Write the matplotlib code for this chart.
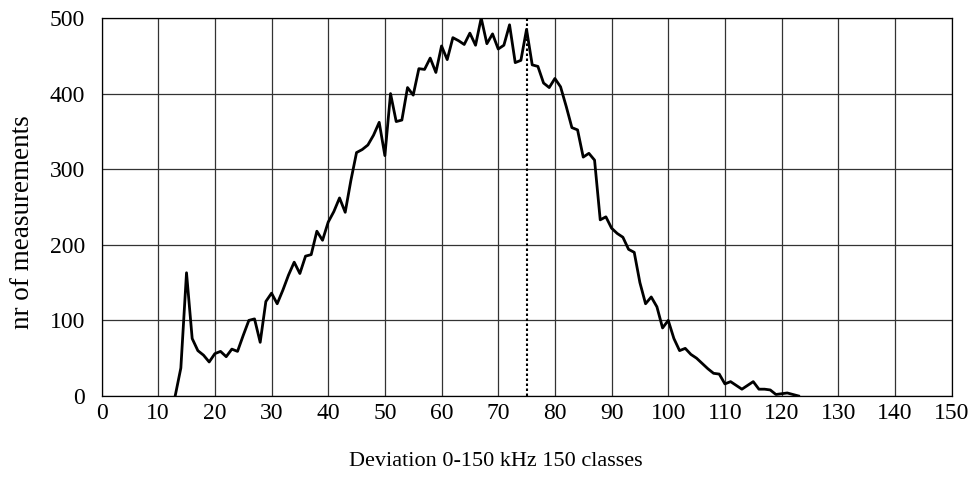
import matplotlib.pyplot as plt
import numpy as np

plt.rcParams['font.family'] = ['Liberation Serif', 'DejaVu Serif']

classes = list(range(13, 124))
counts = [0, 37, 163, 76, 60, 54, 45, 56, 59, 52,
          62, 59, 80, 100, 102, 71, 125, 136, 122, 140,
          160, 177, 162, 185, 187, 218, 206, 230, 244, 262,
          243, 285, 322, 326, 332, 345, 362, 318, 400, 363,
          365, 408, 398, 433, 432, 447, 428, 463, 445, 474,
          470, 465, 480, 464, 500, 466, 479, 459, 464, 491,
          441, 444, 485, 438, 436, 414, 408, 420, 409, 383,
          355, 352, 316, 321, 312, 233, 237, 222, 215, 210,
          194, 190, 150, 122, 131, 118, 90, 100, 76, 60,
          63, 55, 50, 43, 36, 30, 29, 16, 19, 14,
          9, 14, 19, 9, 9, 8, 2, 3, 4, 2,
          0]
marker_x = 75
x_ticks = list(range(0, 151, 10))
y_ticks = list(range(0, 501, 100))

fig = plt.figure(figsize=(9.76, 4.79), dpi=100)
ax = fig.add_axes([0.104, 0.1733, 0.871, 0.7891])

ax.plot(classes, counts, color='black', lw=2.0, solid_joinstyle='round')
ax.plot([marker_x, marker_x], [0, 500], color='black', lw=1.5, ls=(0, (1.2, 1.2)))

ax.set_xlim(0, 150)
ax.set_ylim(0, 500)
ax.set_xticks(x_ticks)
ax.set_yticks(y_ticks)
ax.grid(True, color='#333333', lw=0.9)
ax.set_axisbelow(True)
ax.tick_params(length=0, labelsize=17)
ax.tick_params(axis='x', pad=5)
ax.tick_params(axis='y', pad=12)
for s in ax.spines.values():
    s.set_color('black')
    s.set_linewidth(0.9)

fig.text(0.508, 0.036, 'Deviation 0-150 kHz 150 classes', fontsize=16,
         ha='center', va='center')
fig.text(0.023, 0.537, 'nr of measurements', fontsize=19.5,
         rotation=90, ha='center', va='center')

plt.savefig('out.png', dpi=100)
